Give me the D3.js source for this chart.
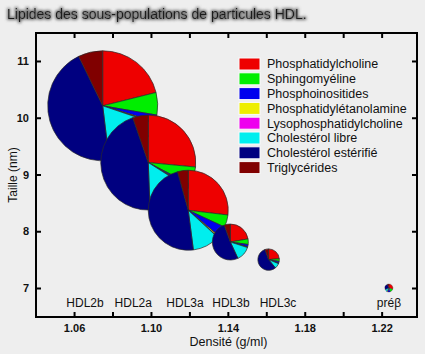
<!DOCTYPE html>
<html><head><meta charset="utf-8">
<script src="https://cdn.jsdelivr.net/npm/d3@7"></script>
<style>
html,body{margin:0;padding:0;background:#eeeeee;}
svg{display:block;font-family:"Liberation Sans",Arial,Helvetica,sans-serif;}
</style></head>
<body>
<svg id="chart" width="425" height="354"></svg>
<script>
// ---- data ----
const categories = ["HDL2b", "HDL2a", "HDL3a", "HDL3b", "HDL3c", "préβ"];
const density = [1.0749, 1.0986, 1.1194, 1.1413, 1.1612, 1.2238];      // g/ml (pie centre)
const particleSize = [10.21, 9.21, 8.37, 7.81, 7.50, 7.00];            // nm (pie centre)
const relativeMass = [100, 74.6, 52.9, 10.7, 3.8, 0.53];               // pie area
const labelDensity = [1.0657, 1.0908, 1.1177, 1.1416, 1.1661, 1.2238]; // category label positions
const labelSize = 6.74;

const lipids = ["Phosphatidylcholine", "Sphingomyéline", "Phosphoinositides",
  "Phosphatidylétanolamine", "Lysophosphatidylcholine", "Cholestérol libre",
  "Cholestérol estérifié", "Triglycérides"];
const phosphatidylcholine     = [21.1, 26.5, 26.9, 22.2, 23.6, 30];
const sphingomyeline          = [6.6, 6.2, 5.0, 5.0, 4.2, 15];
const phosphoinositides       = [2.0, 0.8, 4.2, 2.2, 2.8, 10];
const phosphatidyletanolamine = [0.3, 0.3, 0.6, 0.3, 0.3, 2];
const lysophosphatidylcholine = [0.2, 0.2, 0.15, 0.3, 0.3, 2];
const cholesterolLibre        = [17.9, 15.4, 11.1, 13.1, 7.8, 10];
const cholesterolEsterifie    = [44.7, 45.3, 47.75, 51.4, 55.5, 25];
const triglycerides           = [7.2, 5.3, 4.3, 5.5, 5.5, 6];
const series = [phosphatidylcholine, sphingomyeline, phosphoinositides,
  phosphatidyletanolamine, lysophosphatidylcholine, cholesterolLibre,
  cholesterolEsterifie, triglycerides];

const xTicks = [1.06, 1.08, 1.10, 1.12, 1.14, 1.16, 1.18, 1.20, 1.22];
const xTickLabels = ["1.06", "", "1.10", "", "1.14", "", "1.18", "", "1.22"];
const yTicks = [7, 8, 9, 10, 11];
const yTickLabels = ["7", "8", "9", "10", "11"];

const palette = ["#ee0000", "#00ee00", "#0000ee", "#eeee00", "#ee00ee", "#00eeee", "#000080", "#800000"];

// ---- layout ----
const svg = d3.select("#chart");
const L = 36, R = 417, T = 33, B = 317;
const x = d3.scaleLinear().domain([1.0402, 1.2384]).range([L, R]);
const y = d3.scaleLinear().domain([6.489, 11.493]).range([B, T]);
const rScale = d3.scaleSqrt().domain([0, 100]).range([0, 55]);

// title with glow
const defs = svg.append("defs");
const f = defs.append("filter").attr("id", "glow").attr("x", "-10%").attr("y", "-50%").attr("width", "120%").attr("height", "200%");
f.append("feMorphology").attr("in", "SourceAlpha").attr("operator", "dilate").attr("radius", 1.2).attr("result", "d");
f.append("feGaussianBlur").attr("in", "d").attr("stdDeviation", 1.4).attr("result", "b");
f.append("feFlood").attr("flood-color", "#6e6e6e").attr("result", "c");
f.append("feComposite").attr("in", "c").attr("in2", "b").attr("operator", "in").attr("result", "s");
const fm = f.append("feMerge");
fm.append("feMergeNode").attr("in", "s");
fm.append("feMergeNode").attr("in", "SourceGraphic");

svg.append("text").attr("x", 7).attr("y", 19)
  .attr("font-size", 14).attr("fill", "#1a1a1a").attr("filter", "url(#glow)")
  .text("Lipides des sous-populations de particules HDL.");

// pies
const pie = d3.pie().sort(null).value(d => d);
const gPies = svg.append("g");
categories.forEach((c, i) => {
  const vals = series.map(s => s[i]);
  const r = rScale(relativeMass[i]);
  const arc = d3.arc().innerRadius(0).outerRadius(r);
  const g = gPies.append("g").attr("transform", `translate(${x(density[i])},${y(particleSize[i])})`);
  g.selectAll("path").data(pie(vals)).join("path")
    .attr("d", arc)
    .attr("fill", (d, j) => palette[j])
    .attr("stroke", "#2a2a2a")
    .attr("stroke-width", r > 6 ? 0.7 : 0.3);
});

// category labels
svg.append("g").selectAll("text").data(categories).join("text")
  .attr("x", (d, i) => x(labelDensity[i]))
  .attr("y", y(labelSize))
  .attr("dy", "0.35em")
  .attr("text-anchor", "middle")
  .attr("font-size", 12).attr("fill", "#111")
  .text(d => d);

// axes
const axB = d3.axisBottom(x).tickValues(xTicks).tickFormat((d, i) => xTickLabels[i]).tickSizeInner(-5).tickSizeOuter(0).tickPadding(7);
const axT = d3.axisTop(x).tickValues(xTicks).tickFormat("").tickSizeInner(-5).tickSizeOuter(0);
const axL = d3.axisLeft(y).tickValues(yTicks).tickFormat((d, i) => yTickLabels[i]).tickSizeInner(-5).tickSizeOuter(0).tickPadding(7);
const axR = d3.axisRight(y).tickValues(yTicks).tickFormat("").tickSizeInner(-5).tickSizeOuter(0);
function styleAx(g) {
  g.select(".domain").remove();
  g.selectAll(".tick line").attr("stroke", "#000").attr("stroke-width", 2);
  g.selectAll(".tick text").attr("fill", "#111").attr("font-size", 11).attr("font-weight", "bold")
    .attr("font-family", "'Liberation Sans',Arial,sans-serif");
}
svg.append("g").attr("transform", `translate(0,${B})`).call(axB).call(styleAx);
svg.append("g").attr("transform", `translate(0,${T})`).call(axT).call(styleAx);
svg.append("g").attr("transform", `translate(${L},0)`).call(axL).call(styleAx);
svg.append("g").attr("transform", `translate(${R},0)`).call(axR).call(styleAx);

svg.append("rect").attr("x", L).attr("y", T).attr("width", R - L).attr("height", B - T)
  .attr("fill", "none").attr("stroke", "#000").attr("stroke-width", 2);

svg.append("text").attr("x", (L + R) / 2 + 2).attr("y", 346)
  .attr("text-anchor", "middle").attr("font-size", 12.5).attr("fill", "#111").text("Densité (g/ml)");
svg.append("text").attr("transform", `translate(17,175) rotate(-90)`)
  .attr("text-anchor", "middle").attr("font-size", 12).attr("fill", "#111").text("Taille (nm)");

// legend
const lg = svg.append("g").attr("transform", "translate(239,64)");
const rows = lg.selectAll("g").data(lipids).join("g").attr("transform", (d, i) => `translate(0,${i * 14.8})`);
rows.append("rect").attr("x", 0).attr("y", -6).attr("width", 21).attr("height", 12)
  .attr("fill", (d, i) => palette[i]).attr("stroke", "#fafafa").attr("stroke-width", 1);
rows.append("text").attr("x", 28).attr("y", 0).attr("dy", "0.35em")
  .attr("font-size", 12.5).attr("fill", "#111").text(d => d);
</script>
</body></html>
